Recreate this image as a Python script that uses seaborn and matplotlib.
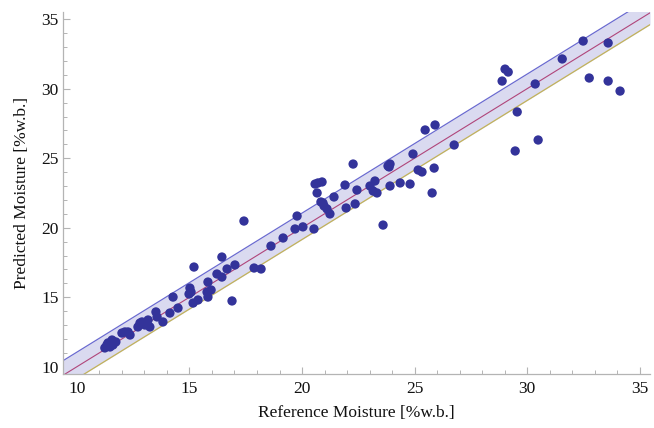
import numpy as np
import pandas as pd
import matplotlib
matplotlib.use("Agg")
import matplotlib.pyplot as plt
import seaborn as sns
from matplotlib.ticker import MultipleLocator

# reference vs predicted moisture (%w.b.)
reference = [11.24, 11.33, 11.38, 11.47, 11.56, 11.60, 11.73, 12.00, 12.13, 12.27,
             12.36, 12.71, 12.80, 12.89, 13.02, 13.16, 13.24, 13.51, 13.56, 13.82,
             14.13, 14.27, 14.49, 15.02, 15.07, 14.98, 15.16, 15.38, 15.20, 15.82,
             15.78, 15.96, 15.82, 16.22, 16.44, 16.67, 16.44, 16.89, 17.02, 17.42,
             17.87, 18.18, 18.62, 19.16, 19.78, 19.69, 20.04, 20.53, 20.58, 20.71,
             20.89, 20.67, 20.84, 20.93, 20.98, 21.11, 21.24, 21.42, 21.91, 21.96,
             22.36, 22.44, 22.27, 23.02, 23.16, 23.24, 23.33, 23.82, 23.91, 23.87,
             23.91, 24.36, 24.80, 24.93, 25.16, 25.33, 25.47, 25.87, 25.91, 25.78,
             26.76, 28.89, 29.02, 29.16, 29.47, 29.56, 30.36, 30.49, 31.56, 32.49,
             32.76, 33.60, 33.60, 34.13, 23.60]
predicted = [11.35, 11.56, 11.71, 11.42, 11.92, 11.56, 11.78, 12.42, 12.50, 12.50,
             12.28, 12.86, 13.14, 13.22, 13.00, 13.36, 12.86, 13.94, 13.58, 13.22,
             13.86, 15.01, 14.22, 15.66, 15.37, 15.23, 14.58, 14.80, 17.17, 16.09,
             15.37, 15.52, 15.01, 16.67, 16.45, 17.03, 17.89, 14.73, 17.32, 20.48,
             17.10, 17.03, 18.68, 19.26, 20.84, 19.91, 20.06, 19.91, 23.14, 23.22,
             23.29, 22.50, 21.85, 21.78, 21.56, 21.35, 20.99, 22.21, 23.07, 21.42,
             21.71, 22.71, 24.58, 23.00, 22.64, 23.36, 22.50, 24.44, 24.58, 24.37,
             23.00, 23.22, 23.14, 25.30, 24.15, 24.01, 27.03, 24.29, 27.39, 22.50,
             25.95, 30.55, 31.41, 31.20, 25.52, 28.33, 30.34, 26.31, 32.14, 33.43,
             30.77, 33.29, 30.55, 29.83, 20.19]

upper_offset = 1.05
lower_offset = 0.85

df = pd.DataFrame({"reference": reference, "predicted": predicted})

sns.set_style("white")
plt.rcParams["font.family"] = ["Liberation Serif", "DejaVu Serif"]

fig = plt.figure(figsize=(6.54, 4.28), dpi=100)
ax = fig.add_axes([0.0963, 0.126, 0.8976, 0.846])

xlim = (9.38, 35.46)
ylim = (9.47, 35.52)
line_x = np.array(xlim)

ax.fill_between(line_x, line_x - lower_offset, line_x + upper_offset,
                color="#dadaf0", linewidth=0, zorder=1)
ax.plot(line_x, line_x + upper_offset, color="#6a6ad0", linewidth=0.9, zorder=2)
ax.plot(line_x, line_x - lower_offset, color="#c2b25a", linewidth=0.9, zorder=2)
ax.plot(line_x, line_x, color="#b0457a", linewidth=0.8, zorder=2)

sns.scatterplot(data=df, x="reference", y="predicted", ax=ax, s=45,
                color="#33339a", edgecolor="none", zorder=3)

ax.set_xlim(*xlim)
ax.set_ylim(*ylim)
ax.xaxis.set_major_locator(MultipleLocator(5))
ax.xaxis.set_minor_locator(MultipleLocator(1))
ax.yaxis.set_major_locator(MultipleLocator(5))
ax.yaxis.set_minor_locator(MultipleLocator(1))

for side in ["top", "right"]:
    ax.spines[side].set_visible(False)
for side in ["left", "bottom"]:
    ax.spines[side].set_color("#b4b4b4")
    ax.spines[side].set_linewidth(0.9)

ax.tick_params(which="major", direction="in", length=5, width=0.8, color="#b4b4b4",
               labelsize=12.5, labelcolor="#111111", bottom=True, left=True)
ax.tick_params(which="minor", direction="in", length=3, width=0.7, color="#b4b4b4",
               bottom=True, left=True)
ax.tick_params(axis="x", which="major", pad=5)
ax.tick_params(axis="y", which="major", pad=3)

ax.set_xlabel("Reference Moisture [%w.b.]", fontsize=12.5, color="#111111", labelpad=6)
ax.set_ylabel("Predicted Moisture [%w.b.]", fontsize=12.5, color="#111111", labelpad=8)

fig.savefig("out.png", dpi=100)
